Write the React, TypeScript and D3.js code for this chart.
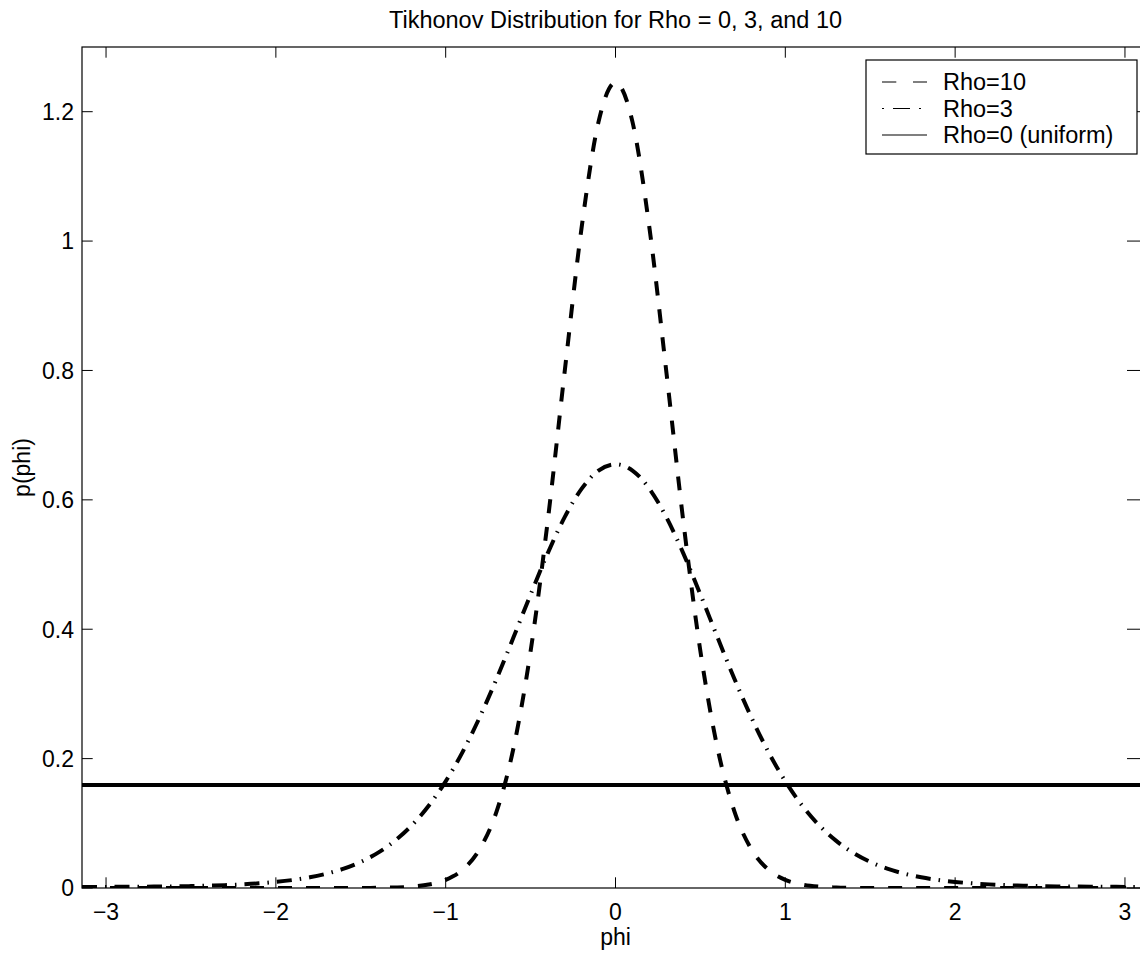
import React from "react";
import * as d3 from "d3";

const phi = [
  -3.1416, -3.1, -3.0, -2.9, -2.8, -2.7, -2.6, -2.5, -2.4, -2.3, -2.2, -2.1, -2.0,
  -1.9, -1.8, -1.7, -1.6, -1.5, -1.4, -1.3, -1.2, -1.1, -1.0, -0.9, -0.8, -0.7,
  -0.6, -0.5, -0.4, -0.3, -0.2, -0.1, 0, 0.1, 0.2, 0.3, 0.4, 0.5, 0.6, 0.7, 0.8,
  0.9, 1.0, 1.1, 1.2, 1.3, 1.4, 1.5, 1.6, 1.7, 1.8, 1.9, 2.0, 2.1, 2.2, 2.3, 2.4,
  2.5, 2.6, 2.7, 2.8, 2.9, 3.0, 3.1, 3.1416,
];

const pRho10 = [
  0, 0, 0, 0, 0, 0, 0, 0, 0, 0, 0, 0, 0, 0, 0, 0, 0,
  0.0001, 0.0003, 0.0008, 0.0021, 0.0053, 0.0126, 0.0283, 0.06, 0.1185, 0.2171,
  0.366, 0.5654, 0.7966, 1.02, 1.1843, 1.245, 1.1843, 1.02, 0.7966, 0.5654, 0.366,
  0.2171, 0.1185, 0.06, 0.0283, 0.0126, 0.0053, 0.0021, 0.0008, 0.0003, 0.0001,
  0, 0, 0, 0, 0, 0, 0, 0, 0, 0, 0, 0, 0, 0, 0, 0, 0,
];

const pRho3 = [
  0.0016, 0.0016, 0.0017, 0.0018, 0.0019, 0.0022, 0.0025, 0.0029, 0.0036, 0.0044,
  0.0056, 0.0072, 0.0094, 0.0124, 0.0165, 0.0222, 0.0299, 0.0403, 0.0543, 0.0728,
  0.0967, 0.1271, 0.1649, 0.2105, 0.2637, 0.3235, 0.3879, 0.4537, 0.5169, 0.5729,
  0.617, 0.6453, 0.655, 0.6453, 0.617, 0.5729, 0.5169, 0.4537, 0.3879, 0.3235,
  0.2637, 0.2105, 0.1649, 0.1271, 0.0967, 0.0728, 0.0543, 0.0403, 0.0299, 0.0222,
  0.0165, 0.0124, 0.0094, 0.0072, 0.0056, 0.0044, 0.0036, 0.0029, 0.0025, 0.0022,
  0.0019, 0.0018, 0.0017, 0.0016, 0.0016,
];

const uniformPhi = [-3.1416, 3.1416];
const pUniform = [0.1592, 0.1592];

const xTicks = [-3, -2, -1, 0, 1, 2, 3];
const yTicks = [0, 0.2, 0.4, 0.6, 0.8, 1, 1.2];
const legendLabels = ["Rho=10", "Rho=3", "Rho=0 (uniform)"];
const titleText = "Tikhonov Distribution for Rho = 0, 3, and 10";

const W = 1140;
const H = 953;
const L = 82;
const R = 1149;
const T = 47;
const B = 888;
const TICK = 10.7;
const FONT = "'Liberation Sans', Arial, Helvetica, sans-serif";

export default function App() {
  const x = d3.scaleLinear().domain([-Math.PI, Math.PI]).range([L, R]);
  const y = d3.scaleLinear().domain([0, 1.3]).range([B, T]);

  const line = d3
    .line<[number, number]>()
    .x((d) => x(d[0]))
    .y((d) => y(d[1]))
    .curve(d3.curveMonotoneX);

  const s10 = phi.map((p, i) => [p, pRho10[i]] as [number, number]);
  const s3 = phi.map((p, i) => [p, pRho3[i]] as [number, number]);
  const s0 = uniformPhi.map((p, i) => [p, pUniform[i]] as [number, number]);

  const fmtX = (v: number) => (v < 0 ? "\u2212" + Math.abs(v) : String(v));

  const legX0 = 866;
  const legX1 = 1137;
  const legY0 = 60;
  const legY1 = 154;
  const rowY = [82, 108.5, 135];
  const legLineX0 = 882;
  const legLineX1 = 927;
  const legTextX = 943;
  const legDash = ["14.3,16.7", "2,9,17,9,2,9", null];

  return (
    <svg
      width={W}
      height={H}
      style={{ position: "absolute", left: 0, top: 0, background: "#fff" }}
      fontFamily={FONT}
    >
      <rect x={0} y={0} width={W} height={H} fill="#fff" />
      <defs>
        <clipPath id="plotClip">
          <rect x={L} y={T} width={R - L} height={B - T} />
        </clipPath>
      </defs>

      <g clipPath="url(#plotClip)" fill="none" stroke="#000">
        <path d={line(s10) || ""} strokeWidth={4} strokeDasharray="14,14" />
        <path d={line(s3) || ""} strokeWidth={4} strokeDasharray="15,8,1.5,8" />
        <path d={line(s0) || ""} strokeWidth={4} />
      </g>

      {/* axes box */}
      <rect x={L} y={T} width={R - L} height={B - T} fill="none" stroke="#000" strokeWidth={1.2} />

      {/* x ticks */}
      {xTicks.map((t) => (
        <g key={"x" + t}>
          <line x1={x(t)} x2={x(t)} y1={B} y2={B - TICK} stroke="#000" strokeWidth={1} />
          <line x1={x(t)} x2={x(t)} y1={T} y2={T + TICK} stroke="#000" strokeWidth={1} />
          <text x={x(t)} y={920} textAnchor="middle" fontSize={23} fill="#000">
            {fmtX(t)}
          </text>
        </g>
      ))}

      {/* y ticks */}
      {yTicks.map((t) => (
        <g key={"y" + t}>
          <line x1={L} x2={L + TICK} y1={y(t)} y2={y(t)} stroke="#000" strokeWidth={1} />
          <line x1={R} x2={R - 22} y1={y(t)} y2={y(t)} stroke="#000" strokeWidth={1} />
          <text x={74} y={y(t)} dy="0.36em" textAnchor="end" fontSize={23} fill="#000">
            {String(t)}
          </text>
        </g>
      ))}

      {/* labels */}
      <text x={(L + R) / 2} y={28} textAnchor="middle" fontSize={23.5} fill="#000">
        {titleText}
      </text>
      <text x={(L + R) / 2} y={945} textAnchor="middle" fontSize={23} fill="#000">
        phi
      </text>
      <text
        transform={`translate(30,${(T + B) / 2}) rotate(-90)`}
        textAnchor="middle"
        fontSize={23}
        fill="#000"
      >
        p(phi)
      </text>

      {/* legend */}
      <rect x={legX0} y={legY0} width={legX1 - legX0} height={legY1 - legY0} fill="#fff" stroke="#000" strokeWidth={1.2} />
      {legendLabels.map((lab, i) => (
        <g key={lab}>
          <line
            x1={legLineX0}
            x2={legLineX1}
            y1={rowY[i]}
            y2={rowY[i]}
            stroke="#000"
            strokeWidth={1.2}
            strokeDasharray={legDash[i] || undefined}
          />
          <text x={legTextX} y={rowY[i]} dy="0.36em" fontSize={23.5} fill="#000">
            {lab}
          </text>
        </g>
      ))}
    </svg>
  );
}
